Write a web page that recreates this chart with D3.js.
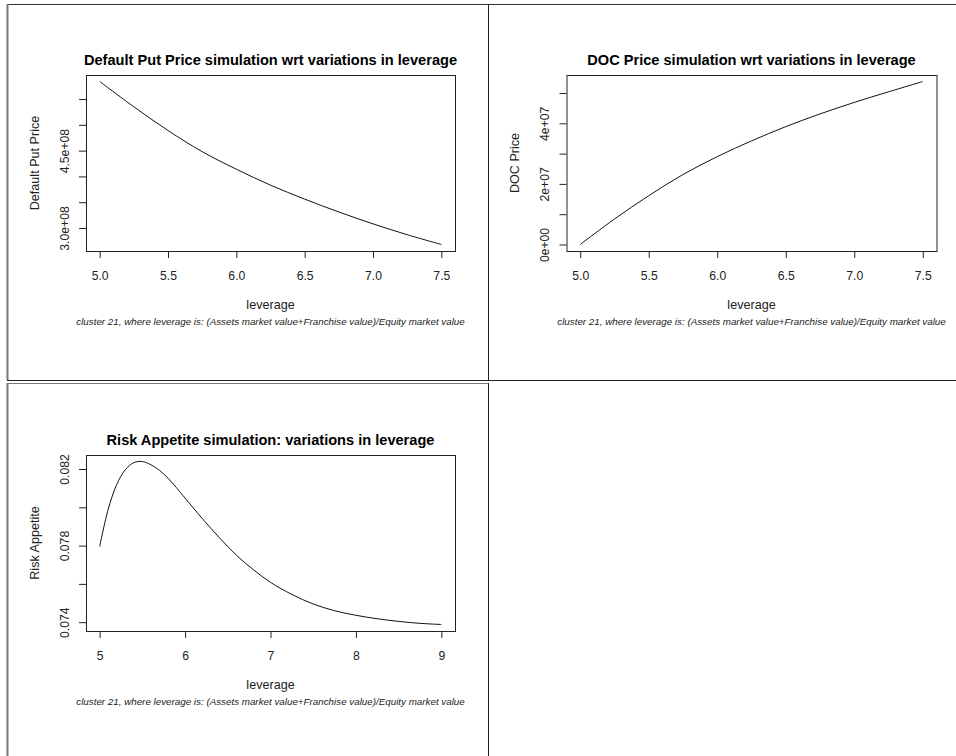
<!DOCTYPE html>
<html>
<head>
<meta charset="utf-8">
<script src="https://cdn.jsdelivr.net/npm/d3@7"></script>
<style>
  html, body { margin: 0; padding: 0; background: #fff; }
  svg { display: block; font-family: "Liberation Sans", Arial, sans-serif; }
</style>
</head>
<body>
<svg id="fig" width="956" height="756"></svg>
<script>
// Simulated quantities against leverage (cluster 21)
const putLeverage = [5.0, 5.25, 5.5, 5.75, 6.0, 6.25, 6.5, 6.75, 7.0, 7.25, 7.5];
const putPrice    = [5.84e8, 5.35e8, 4.89e8, 4.48e8, 4.14e8, 3.83e8, 3.56e8, 3.31e8, 3.08e8, 2.87e8, 2.68e8];
const putTicks    = [3.0e8, 3.5e8, 4.0e8, 4.5e8, 5.0e8, 5.5e8];
const putTickText = ["3.0e+08", "", "", "4.5e+08", "", ""];

const docLeverage = [5.0, 5.25, 5.5, 5.75, 6.0, 6.25, 6.5, 6.75, 7.0, 7.25, 7.5];
const docPrice    = [0, 0.84e7, 1.61e7, 2.31e7, 2.90e7, 3.42e7, 3.89e7, 4.31e7, 4.69e7, 5.04e7, 5.38e7];
const docTicks    = [0, 1e7, 2e7, 3e7, 4e7, 5e7];
const docTickText = ["0e+00", "", "2e+07", "", "4e+07", ""];

const riskLeverage = [5.0, 5.1, 5.2, 5.3, 5.4, 5.5, 5.6, 5.7, 5.8, 5.9, 6.0, 6.2, 6.4, 6.6, 6.8,
                      7.0, 7.25, 7.5, 7.75, 8.0, 8.25, 8.5, 8.75, 9.0];
const riskAppetite = [0.07795, 0.07990, 0.08119, 0.08196, 0.08233, 0.08239, 0.08222, 0.08193, 0.08152,
                      0.08102, 0.08048, 0.07942, 0.07842, 0.07750, 0.07674, 0.07608, 0.07545, 0.07495,
                      0.07460, 0.07436, 0.07418, 0.07404, 0.07394, 0.07388];
const riskTicks    = [0.074, 0.076, 0.078, 0.080, 0.082];
const riskTickText = ["0.074", "", "0.078", "", "0.082"];

const xTicksHalf = [5.0, 5.5, 6.0, 6.5, 7.0, 7.5];
const xTicksHalfText = ["5.0", "5.5", "6.0", "6.5", "7.0", "7.5"];
const xTicksUnit = [5, 6, 7, 8, 9];
const xTicksUnitText = ["5", "6", "7", "8", "9"];

const subtitle = "cluster 21, where leverage is: (Assets market value+Franchise value)/Equity market value";

const svg = d3.select("#fig");

// Frames around the panels
const frames = svg.append("g").attr("fill", "none");
frames.append("line").attr("x1", 7).attr("x2", 956).attr("y1", 4.5).attr("y2", 4.5).attr("stroke", "#333");
frames.append("line").attr("x1", 7.5).attr("x2", 7.5).attr("y1", 4).attr("y2", 380).attr("stroke", "#777").attr("stroke-width", 2);
frames.append("line").attr("x1", 488.5).attr("x2", 488.5).attr("y1", 4).attr("y2", 380).attr("stroke", "#222");
frames.append("line").attr("x1", 7).attr("x2", 956).attr("y1", 380.5).attr("y2", 380.5).attr("stroke", "#222");
frames.append("line").attr("x1", 7).attr("x2", 488).attr("y1", 383.5).attr("y2", 383.5).attr("stroke", "#777");
frames.append("line").attr("x1", 7.5).attr("x2", 7.5).attr("y1", 383).attr("y2", 756).attr("stroke", "#777").attr("stroke-width", 2);
frames.append("line").attr("x1", 488.5).attr("x2", 488.5).attr("y1", 383).attr("y2", 756).attr("stroke", "#222");

// R-style extended domain (4% on each side)
function padded(ext) {
  const d = (ext[1] - ext[0]) * 0.04;
  return [ext[0] - d, ext[1] + d];
}

function panel(cfg) {
  const { left, top, width, height } = cfg.box;
  const g = svg.append("g");
  const x = d3.scaleLinear().domain(padded(d3.extent(cfg.xs))).range([left, left + width]);
  const y = d3.scaleLinear().domain(padded(d3.extent(cfg.ys))).range([top + height, top]);
  const cx = left + width / 2;

  // curve
  const pts = cfg.xs.map((v, i) => [v, cfg.ys[i]]);
  g.append("path")
    .datum(pts)
    .attr("fill", "none")
    .attr("stroke", "#111")
    .attr("stroke-width", 1)
    .attr("d", d3.line().x(d => x(d[0])).y(d => y(d[1])).curve(d3.curveCatmullRom.alpha(0.5)));

  // x axis
  const xAxis = g.append("g")
    .attr("transform", `translate(0,${top + height})`)
    .call(d3.axisBottom(x).tickValues(cfg.xTicks).tickSize(7).tickPadding(0)
      .tickFormat((d, i) => cfg.xTickText[i]));
  xAxis.select(".domain").remove();
  xAxis.selectAll("line").attr("stroke", "#222");
  xAxis.selectAll("text")
    .attr("y", 0).attr("dy", 0)
    .attr("transform", "translate(0,29)")
    .attr("font-size", 12.2).attr("font-family", "Liberation Sans, Arial, sans-serif")
    .attr("fill", "#222");

  // y axis
  const yAxis = g.append("g")
    .attr("transform", `translate(${left},0)`)
    .call(d3.axisLeft(y).tickValues(cfg.yTicks).tickSize(7).tickPadding(0)
      .tickFormat((d, i) => cfg.yTickText[i]));
  yAxis.select(".domain").remove();
  yAxis.selectAll("line").attr("stroke", "#222");
  yAxis.selectAll("text")
    .attr("x", 0).attr("y", -17.5).attr("dy", 0)
    .attr("transform", "rotate(-90)")
    .attr("text-anchor", "middle")
    .attr("font-size", 12.2).attr("font-family", "Liberation Sans, Arial, sans-serif")
    .attr("fill", "#222");

  // plot box
  g.append("rect")
    .attr("x", left + 0.5).attr("y", top + 0.5)
    .attr("width", width).attr("height", height)
    .attr("fill", "none").attr("stroke", "#222");

  // title
  g.append("text")
    .attr("x", cx).attr("y", top - 10)
    .attr("text-anchor", "middle")
    .attr("font-size", 14.6).attr("font-weight", "bold")
    .attr("fill", "#000")
    .text(cfg.title);

  // x label
  g.append("text")
    .attr("x", cx).attr("y", top + height + 57.5)
    .attr("text-anchor", "middle")
    .attr("font-size", 12.6).attr("fill", "#222")
    .text("leverage");

  // subtitle
  g.append("text")
    .attr("x", cx).attr("y", top + height + 74)
    .attr("text-anchor", "middle")
    .attr("font-size", 9.8).attr("font-style", "italic").attr("fill", "#222")
    .text(subtitle);

  // y label
  g.append("text")
    .attr("transform", `translate(${left - 47.5},${top + height / 2}) rotate(-90)`)
    .attr("text-anchor", "middle")
    .attr("font-size", 12.6).attr("fill", "#222")
    .text(cfg.yLabel);
}

panel({
  box: { left: 86, top: 75, width: 369, height: 176 },
  xs: putLeverage, ys: putPrice,
  xTicks: xTicksHalf, xTickText: xTicksHalfText,
  yTicks: putTicks, yTickText: putTickText,
  title: "Default Put Price simulation wrt variations in leverage",
  yLabel: "Default Put Price"
});

panel({
  box: { left: 566.5, top: 75, width: 370, height: 176 },
  xs: docLeverage, ys: docPrice,
  xTicks: xTicksHalf, xTickText: xTicksHalfText,
  yTicks: docTicks, yTickText: docTickText,
  title: "DOC Price simulation wrt variations in leverage",
  yLabel: "DOC Price"
});

panel({
  box: { left: 86, top: 455, width: 369, height: 176 },
  xs: riskLeverage, ys: riskAppetite,
  xTicks: xTicksUnit, xTickText: xTicksUnitText,
  yTicks: riskTicks, yTickText: riskTickText,
  title: "Risk Appetite simulation: variations in leverage",
  yLabel: "Risk Appetite"
});
</script>
</body>
</html>
